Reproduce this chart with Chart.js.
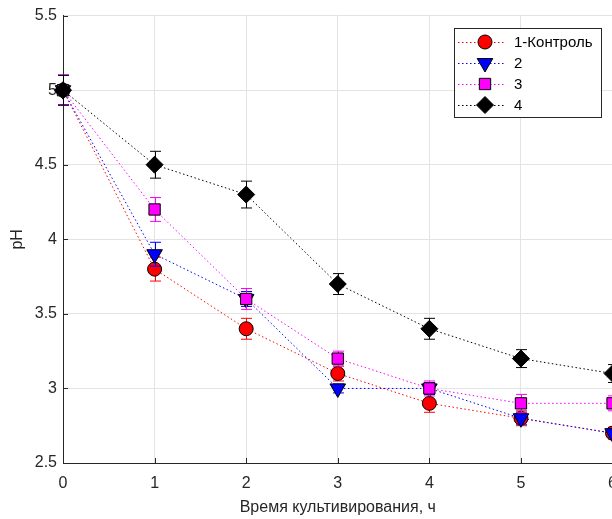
<!DOCTYPE html>
<html>
<head>
<meta charset="utf-8">
<script src="https://cdn.jsdelivr.net/npm/chart.js@4.4.1/dist/chart.umd.min.js"></script>
<style>
    html, body { margin: 0; padding: 0; background: #fff; overflow: hidden; }
    #wrap { width: 628px; height: 519px; }
</style>
</head>
<body>
<div id="wrap"><canvas id="phChart" width="628" height="519"></canvas></div>
<script>
// hours of cultivation
const hours = [0, 1, 2, 3, 4, 5, 6];
const seriesNames = ['1-Контроль', '2', '3', '4'];

// pH values
const phControl = [5.0, 3.8, 3.4, 3.1, 2.9, 2.8, 2.7];
const ph2 = [5.0, 3.9, 3.6, 3.0, 3.0, 2.8, 2.7];
const ph3 = [5.0, 4.2, 3.6, 3.2, 3.0, 2.9, 2.9];
const ph4 = [5.0, 4.5, 4.3, 3.7, 3.4, 3.2, 3.1];

// error bar half-lengths
const errControl = [0.1, 0.08, 0.07, 0.05, 0.06, 0.05, 0.04];
const err2 = [0.1, 0.08, 0.05, 0.03, 0.04, 0.04, 0.03];
const err3 = [0.1, 0.08, 0.07, 0.05, 0.05, 0.06, 0.05];
const err4 = [0.1, 0.09, 0.09, 0.07, 0.07, 0.06, 0.06];

const yTicks = [2.5, 3, 3.5, 4, 4.5, 5, 5.5];

const axisColor = '#262626';
const gridColor = '#e3e3e3';
const fontFamily = "'Liberation Sans', Arial, Helvetica, sans-serif";

function points(values) {
    return hours.map((h, i) => ({ x: h, y: values[i] }));
}

function makeSeries(idx, values, errors, color, style, radius, rotation) {
    return {
        label: seriesNames[idx],
        data: points(values),
        errors: errors,
        borderColor: color,
        borderWidth: 1,
        borderDash: [1.5, 2.5],
        backgroundColor: color,
        pointStyle: style,
        pointRadius: radius,
        pointRotation: rotation,
        pointBackgroundColor: color,
        pointBorderColor: '#000',
        pointBorderWidth: 1,
        tension: 0,
        clip: false,
        order: 3 - idx
    };
}

const datasets = [
    makeSeries(0, phControl, errControl, '#ff0000', 'circle', 7, 0),
    makeSeries(1, ph2, err2, '#0000ff', 'triangle', 9, 180),
    makeSeries(2, ph3, err3, '#ff00ff', 'rect', 8, 0),
    makeSeries(3, ph4, err4, '#000000', 'rectRot', 8.5, 0)
];

// vertical error bars with caps, drawn under each series' markers
const errorBars = {
    id: 'errorBars',
    beforeDatasetDraw(chart, args) {
        const ds = chart.data.datasets[args.index];
        const xs = chart.scales.x, ys = chart.scales.y;
        const ctx = chart.ctx;
        ctx.save();
        ctx.strokeStyle = ds.borderColor;
        ctx.lineWidth = 1;
        ds.data.forEach((p, i) => {
            const px = Math.round(xs.getPixelForValue(p.x)) + 0.5;
            const top = ys.getPixelForValue(p.y + ds.errors[i]);
            const bot = ys.getPixelForValue(p.y - ds.errors[i]);
            ctx.beginPath();
            ctx.moveTo(px, top); ctx.lineTo(px, bot);
            ctx.moveTo(px - 5.5, top); ctx.lineTo(px + 5.5, top);
            ctx.moveTo(px - 5.5, bot); ctx.lineTo(px + 5.5, bot);
            ctx.stroke();
        });
        ctx.restore();
    }
};

// inward tick marks like the original figure
const innerTicks = {
    id: 'innerTicks',
    beforeDatasetsDraw(chart) {
        const ctx = chart.ctx, area = chart.chartArea;
        const xs = chart.scales.x, ys = chart.scales.y;
        ctx.save();
        ctx.strokeStyle = axisColor;
        ctx.lineWidth = 1;
        ctx.beginPath();
        hours.forEach(h => {
            const px = Math.round(xs.getPixelForValue(h)) + 0.5;
            ctx.moveTo(px, area.bottom); ctx.lineTo(px, area.bottom - 5);
        });
        yTicks.forEach(v => {
            const py = Math.round(ys.getPixelForValue(v)) + 0.5;
            ctx.moveTo(area.left, py); ctx.lineTo(area.left + 5, py);
        });
        ctx.stroke();
        ctx.restore();
    }
};

// boxed legend in the upper right corner
const boxLegend = {
    id: 'boxLegend',
    afterDraw(chart) {
        const ctx = chart.ctx;
        const left = 454, top = 28, width = 147, height = 89;
        ctx.save();
        ctx.fillStyle = '#fff';
        ctx.fillRect(left, top, width, height);
        ctx.strokeStyle = axisColor;
        ctx.lineWidth = 1;
        ctx.strokeRect(left + 0.5, top + 0.5, width, height);
        chart.data.datasets.forEach((ds, i) => {
            const y = top + 14 + i * 21;
            ctx.save();
            ctx.strokeStyle = ds.borderColor;
            ctx.setLineDash(ds.borderDash);
            ctx.beginPath();
            ctx.moveTo(left + 4, y + 0.5);
            ctx.lineTo(left + 50, y + 0.5);
            ctx.stroke();
            ctx.restore();
            ctx.fillStyle = ds.pointBackgroundColor;
            ctx.strokeStyle = ds.pointBorderColor;
            ctx.lineWidth = 1;
            Chart.helpers.drawPoint(ctx, {
                pointStyle: ds.pointStyle,
                radius: ds.pointRadius,
                rotation: ds.pointRotation,
                borderWidth: 1
            }, left + 31, y);
            ctx.fillStyle = '#000';
            ctx.font = '15px ' + fontFamily;
            ctx.textBaseline = 'middle';
            ctx.textAlign = 'left';
            ctx.fillText(ds.label, left + 60, y + 1);
        });
        ctx.restore();
    }
};

new Chart(document.getElementById('phChart'), {
    type: 'line',
    data: { datasets: datasets },
    options: {
        responsive: false,
        animation: false,
        devicePixelRatio: 1,
        layout: { padding: { top: 13, right: 0, left: 0, bottom: 0 } },
        plugins: {
            legend: { display: false },
            tooltip: { enabled: false }
        },
        scales: {
            x: {
                type: 'linear',
                min: 0,
                max: 6,
                afterFit(scale) { scale.height = 56; },
                ticks: {
                    stepSize: 1,
                    color: axisColor,
                    padding: 11,
                    font: { family: fontFamily, size: 16 }
                },
                grid: { color: gridColor, drawTicks: false },
                border: { display: true, color: axisColor, width: 1 },
                title: {
                    display: true,
                    text: 'Время культивирования, ч',
                    color: axisColor,
                    padding: { top: 0, bottom: 2 },
                    font: { family: fontFamily, size: 16 }
                }
            },
            y: {
                min: 2.5,
                max: 5.5,
                afterFit(scale) { scale.width = 63; },
                afterBuildTicks(scale) { scale.ticks = yTicks.map(v => ({ value: v })); },
                ticks: {
                    color: axisColor,
                    padding: 6,
                    font: { family: fontFamily, size: 16 },
                    callback: v => String(v)
                },
                grid: { color: gridColor, drawTicks: false },
                border: { display: true, color: axisColor, width: 1 },
                title: {
                    display: true,
                    text: 'pH',
                    color: axisColor,
                    padding: { top: 8, bottom: 0 },
                    font: { family: fontFamily, size: 16 }
                }
            }
        }
    },
    plugins: [errorBars, innerTicks, boxLegend]
});
</script>
</body>
</html>
